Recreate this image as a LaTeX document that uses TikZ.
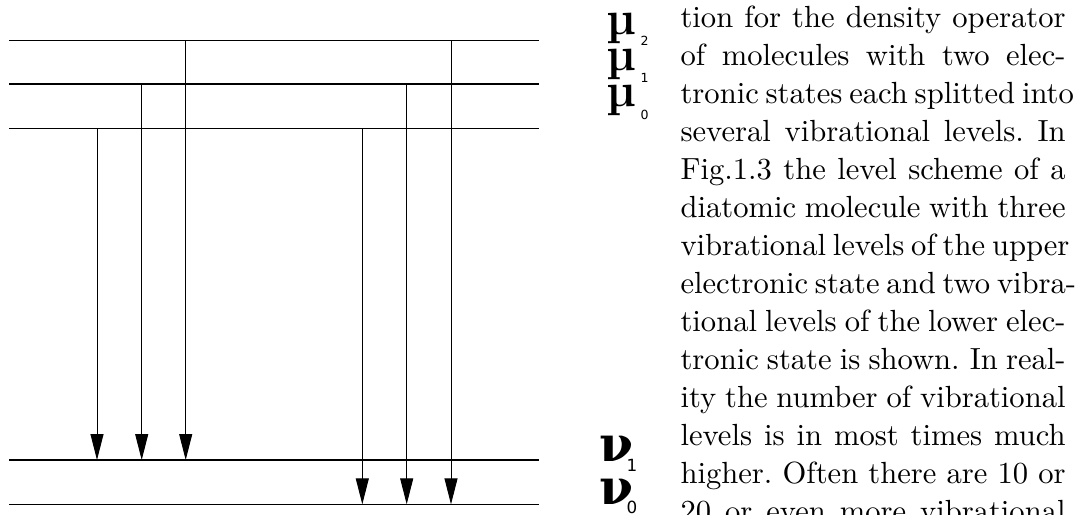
\documentclass[tikz,border=0pt]{standalone}
\usepackage{fontspec}
\usetikzlibrary{arrows.meta}
\newfontfamily\greekfont{DejaVu Serif}
\newfontfamily\indexfont{DejaVu Sans}
\newcommand{\fullline}[1]{\hbox to \hsize{\spaceskip=0.333em plus 1fil minus 0.11em #1}}

\begin{document}
\begin{tikzpicture}[
    x=0.3579pt, y=-0.3579pt,
    level/.style={line width=0.4pt},
    trans/.style={line width=0.35pt, -{Triangle[length=9.3pt, width=4.65pt]}},
    upper/.style={inner sep=0pt, font=\fontsize{17}{17}\selectfont\bfseries},
    lower/.style={inner sep=0pt, font=\fontsize{17.5}{17.5}\greekfont\bfseries},
    smallidx/.style={inner sep=0pt, font=\fontsize{4.5}{4.5}\indexfont},
    bigidx/.style={inner sep=0pt, font=\fontsize{6}{6}\indexfont}
]
\useasboundingbox (0,0) rectangle (1077,514);

% level ends
\coordinate (m2l) at (9,40.5);  \coordinate (m2r) at (539,40.5);
\coordinate (m1l) at (9,84);  \coordinate (m1r) at (539,84);
\coordinate (m0l) at (9,128.5); \coordinate (m0r) at (539,128.5);
\coordinate (n1l) at (9,460); \coordinate (n1r) at (539,460);
\coordinate (n0l) at (9,504.3); \coordinate (n0r) at (539,504.3);

% levels
\foreach \lv in {m2,m1,m0,n1,n0}
    \draw[level] (\lv l) -- (\lv r);

% transitions
\foreach \xx/\up in {97/m0,141.7/m1,185.7/m2}
    \draw[trans] (\xx,0 |- \up l) -- (\xx,0 |- n1l);
\foreach \xx/\up in {362.3/m0,406.7/m1,451/m2}
    \draw[trans] (\xx,0 |- \up l) -- (\xx,0 |- n0l);

% level labels
\node[upper, anchor=base] (mutwo) at (621,35) {µ};
\node[smallidx, anchor=base west] (mutwoidx) at (640,46) {2};
\node[upper, anchor=base] (muone) at (621,71) {µ};
\node[smallidx, anchor=base west] (muoneidx) at (640,83) {1};
\node[upper, anchor=base] (muzero) at (621,107) {µ};
\node[smallidx, anchor=base west] (muzeroidx) at (640,120) {0};
\node[lower, anchor=base] (nuone) at (616,461) {ν};
\node[bigidx, anchor=base west] (nuoneidx) at (626,471) {1};
\node[lower, anchor=base] (nuzero) at (616,504) {ν};
\node[bigidx, anchor=base west] (nuzeroidx) at (626,513) {0};

% running text
\node[anchor=north west, inner sep=0pt, text width=137.8pt,
      font=\fontsize{10.95}{13.6}\selectfont] (body) at (680,5) {%
\fullline{tion for the density operator}
\fullline{of molecules with two elec-}
\fullline{tronic states each splitted into}
\fullline{several vibrational levels.\hskip 0.333em plus 1fil In}
\fullline{Fig.1.3 the level scheme of a}
\fullline{diatomic molecule with three}
\fullline{vibrational levels of the upper}
\fullline{electronic state and two vibra-}
\fullline{tional levels of the lower elec-}
\fullline{tronic state is shown.\hskip 0.333em plus 1fil In real-}
\fullline{ity the number of vibrational}
\fullline{levels is in most times much}
\fullline{higher.\hskip 0.333em plus 1fil Often there are 10 or}
\fullline{20 or even more vibrational}};

\end{tikzpicture}
\end{document}
